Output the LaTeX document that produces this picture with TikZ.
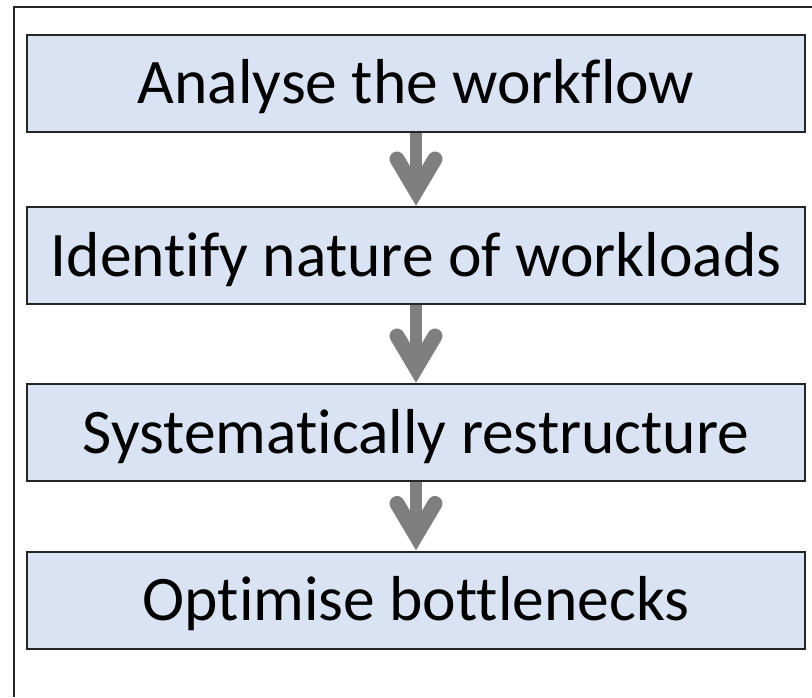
\documentclass[tikz,border=0pt]{standalone}
\usepackage{fontspec}
\setmainfont[Ligatures=NoCommon]{Carlito}
\usetikzlibrary{calc}
\definecolor{boxfill}{HTML}{DAE3F3}
\definecolor{boxline}{HTML}{262626}
\definecolor{arrowgrey}{HTML}{7F7F7F}
\tikzset{
  stepbox/.style={draw=boxline, line width=2, fill=boxfill,
    minimum width=778, minimum height=97, inner sep=0,
    text height=41, text depth=0,
    font=\fontsize{63.5}{76}\selectfont},
  shaft/.style={draw=arrowgrey, line width=12, line cap=butt},
  chevron/.style={draw=arrowgrey, line width=15, line cap=round, line join=miter}
}
\newcommand{\downarrowlink}[2]{%
  \draw[shaft] (#1.south) -- ($(#2.north)+(0,-16)$);
  \draw[chevron] ($(#2.north)+(-19,-47)$) -- ($(#2.north)+(0,-15)$) -- ($(#2.north)+(19,-47)$);
}
\begin{document}
\begin{tikzpicture}[x=1pt,y=-1pt]
  \useasboundingbox (0,0) rectangle (812,697);
  % outer frame (top and left edges)
  \draw[line width=2, boxline] (812,7) -- (14,7) -- (14,697);

  \node[stepbox] (s1) at (416,83)    {Analyse the workflow};
  \node[stepbox] (s2) at (416,255.5) {Identify nature of workloads};
  \node[stepbox] (s3) at (416,432.5) {Systematically restructure};
  \node[stepbox] (s4) at (416,600)   {Optimise bottlenecks};

  \downarrowlink{s1}{s2}
  \downarrowlink{s2}{s3}
  \downarrowlink{s3}{s4}
\end{tikzpicture}
\end{document}
